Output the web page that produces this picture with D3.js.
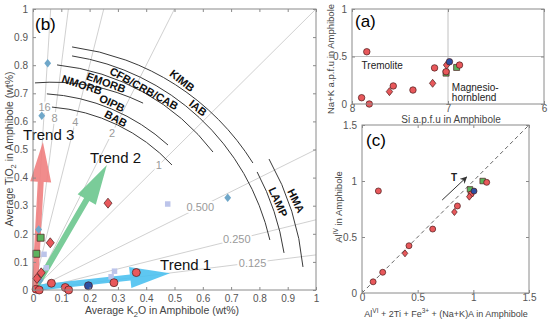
<!DOCTYPE html>
<html>
<head>
<meta charset="utf-8">
<script src="https://cdn.jsdelivr.net/npm/d3@7"></script>
<style>
  body { margin: 0; background: #fff; }
  svg { font-family: "Liberation Sans", Arial, sans-serif; }
</style>
</head>
<body>
<div id="chart"></div>
<script>
// ---------- panel (b): TiO2 vs K2O ----------
const ticksB = [0, 0.1, 0.2, 0.3, 0.4, 0.5, 0.6, 0.7, 0.8, 0.9, 1];
const ratios = [16, 8, 4, 2, 1, 0.5, 0.25, 0.125];
const ratioLabels = ["16", "8", "4", "2", "1", "0.500", "0.250", "0.125"];
const ratioLabelTi = [0.651, 0.612, 0.598, 0.559, 0.445, 0.2955, 0.180, 0.097];

// field boundaries: start / end in (K2O, TiO2), radius in wt%
const arcStart = [[0.138, 0.865], [0.138, 0.833], [0.085, 0.801], [0.007, 0.737], [0.049, 0.698], [0.067, 0.651], [0.792, 0.420], [0.834, 0.466]];
const arcEnd = [[0.777, 0.452], [0.837, 0.178], [0.636, 0.491], [0.389, 0.665], [0.477, 0.516], [0.491, 0.445], [0.887, 0.132], [0.954, 0.082]];
const arcRadius = [0.89, 0.85, 0.80, 0.74, 0.70, 0.655, 0.90, 0.96];

const fieldNames = ["KIMB", "IAB", "CFB/CRB/CAB", "EMORB", "NMORB", "OIPB", "BAB", "LAMP", "HMA"];
const fieldPos = [[0.527, 0.745], [0.583, 0.648], [0.392, 0.717], [0.258, 0.738], [0.173, 0.730], [0.279, 0.665], [0.293, 0.610], [0.866, 0.313], [0.929, 0.317]];
const fieldAngle = [38, 38, 29, 20, 18, 25, 28, 66, 64];

const trendNames = ["Trend 1", "Trend 2", "Trend 3"];
const trendStart = [[0.007, 0.007], [0.014, 0.018], [0.007, 0.010]];
const trendTip = [[0.484, 0.060], [0.261, 0.445], [0.035, 0.527]];
const trendColor = ["#4dc1f0", "#6cc68e", "#ef7f80"];
const trendLabelPos = [[0.449, 0.071], [0.201, 0.452], [-0.035, 0.534]];

const redCircleB = [[0.011, 0.003], [0.022, 0.0], [0.065, 0.024], [0.114, 0.009], [0.126, 0.0], [0.286, 0.026], [0.365, 0.062]];
const redDiamondB = [[0.014, 0.041], [0.029, 0.061], [0.061, 0.168], [0.265, 0.309]];
const greenSquareB = [[0.027, 0.186], [0.012, 0.129]];
const blueCircleB = [[0.196, 0.015]];
const lightSquareB = [[0.039, 0.127], [0.047, 0.079], [0.476, 0.306], [0.288, 0.067], [0.276, 0.047]];
const lightDiamondB = [[0.020, 0.215], [0.031, 0.620], [0.052, 0.807], [0.688, 0.328], [0.025, 0.035]];

// ---------- panel (a): Na+K vs Si ----------
const ticksAx = [8, 7, 6];
const ticksAy = [0, 0.5, 1];
const redCircleA = [[7.846, 0.55], [7.90, 0.066], [7.82, 0.0], [7.57, 0.19], [7.365, 0.147], [7.14, 0.38], [7.02, 0.34], [6.88, 0.41]];
const redDiamondA = [[7.61, 0.13], [7.16, 0.218], [7.015, 0.41]];
const greenSquareA = [[6.91, 0.385], [7.02, 0.325]];
const blueCircleA = [[6.985, 0.445]];

// ---------- panel (c): AlIV vs AlVI+2Ti+Fe3+ ----------
const ticksC = [0, 0.5, 1, 1.5];
const redCircleC = [[0.10, 0.10], [0.186, 0.185], [0.422, 0.422], [0.635, 0.571], [0.857, 0.777], [0.98, 0.884], [1.12, 0.988], [0.147, 0.911]];
const redDiamondC = [[0.386, 0.354], [0.83, 0.723], [0.964, 0.86]];
const greenSquareC = [[0.97, 0.925], [1.084, 1.0]];
const blueCircleC = [[1.006, 0.91]];
const tArrow = [[0.72, 0.83], [0.94, 1.035]];

const colors = { red: "#e8585b", green: "#5cb35e", blue: "#2d4fa2", lightSq: "#bcc4ea", lightDia: "#6fa7c9", edge: "#4a1b1b" };

const width = 550, height = 322;
const svg = d3.select("#chart").append("svg")
    .attr("width", width).attr("height", height)
    .attr("viewBox", [0, 0, width, height]);

const xb = d3.scaleLinear().domain([0, 1]).range([33, 316]);
const yb = d3.scaleLinear().domain([0, 1]).range([290, 9]);
const xa = d3.scaleLinear().domain([8, 6]).range([352, 544]);
const ya = d3.scaleLinear().domain([0, 1]).range([104, 9]);
const xc = d3.scaleLinear().domain([0, 1.5]).range([362, 529]);
const yc = d3.scaleLinear().domain([0, 1.5]).range([293, 125]);

const fmt = d3.format("~g");

drawFrame = (x, y, xt, yt, fs, padX) => {
    const g = svg.append("g");
    const [x0, x1] = x.range(), [y0, y1] = y.range();
    const style = a => a
        .call(s => s.select(".domain").remove())
        .call(s => s.selectAll("line").attr("stroke", "#8a8a8a"))
        .call(s => s.selectAll("text").attr("fill", "#555").attr("font-size", fs).attr("font-family", null));
    g.append("g").attr("transform", `translate(0,${y0})`)
        .call(d3.axisBottom(x).tickValues(xt).tickSize(-3).tickPadding(padX).tickFormat(fmt)).call(style);
    g.append("g").attr("transform", `translate(0,${y1})`)
        .call(d3.axisTop(x).tickValues(xt).tickSize(-3).tickFormat("")).call(style);
    g.append("g").attr("transform", `translate(${Math.min(x0, x1)},0)`)
        .call(d3.axisLeft(y).tickValues(yt).tickSize(-3).tickPadding(5).tickFormat(fmt)).call(style);
    g.append("g").attr("transform", `translate(${Math.max(x0, x1)},0)`)
        .call(d3.axisRight(y).tickValues(yt).tickSize(-3).tickFormat("")).call(style);
    g.append("rect")
        .attr("x", Math.min(x0, x1)).attr("y", y1)
        .attr("width", Math.abs(x1 - x0)).attr("height", y0 - y1)
        .attr("fill", "none").attr("stroke", "#8a8a8a").attr("stroke-width", 1);
    return g;
};

const symbolFor = {
    circle: s => d3.symbol(d3.symbolCircle, Math.PI * s * s / 4)(),
    square: s => `M${-s / 2},${-s / 2}h${s}v${s}h${-s}Z`,
    diamond: s => `M0,${-s / 2}L${s * 0.4},0L0,${s / 2}L${-s * 0.4},0Z`
};

drawMarkers = (data, x, y, shape, size, fill, stroke) => {
    svg.append("g").selectAll("path")
        .data(data)
        .join("path")
        .attr("transform", d => `translate(${x(d[0])},${y(d[1])})`)
        .attr("d", symbolFor[shape](size))
        .attr("fill", fill)
        .attr("stroke", stroke || "none")
        .attr("stroke-width", 0.7);
};

// ======== panel (b) ========
const plotB = svg.append("g");
plotB.selectAll("line.ratio")
    .data(ratios)
    .join("line")
    .attr("class", "ratio")
    .attr("x1", xb(0)).attr("y1", yb(0))
    .attr("x2", r => xb(r >= 1 ? 1 / r : 1))
    .attr("y2", r => yb(r >= 1 ? 1 : r))
    .attr("stroke", "#c4c4c4").attr("stroke-width", 0.8);

plotB.selectAll("text.ratio")
    .data(ratios)
    .join("text")
    .attr("class", "ratio")
    .attr("x", (r, i) => xb(ratioLabelTi[i] / r))
    .attr("y", (r, i) => yb(ratioLabelTi[i]))
    .attr("dy", "0.35em")
    .attr("text-anchor", "middle")
    .attr("font-size", 11)
    .attr("fill", "#9a9a9a")
    .attr("stroke", "#fff").attr("stroke-width", 4).attr("paint-order", "stroke")
    .text((r, i) => ratioLabels[i]);

const kx = xb(1) - xb(0);
plotB.selectAll("path.field")
    .data(arcStart)
    .join("path")
    .attr("class", "field")
    .attr("d", (d, i) => `M${xb(d[0])},${yb(d[1])} A${arcRadius[i] * kx},${arcRadius[i] * kx} 0 0 1 ${xb(arcEnd[i][0])},${yb(arcEnd[i][1])}`)
    .attr("fill", "none").attr("stroke", "#3a3a3a").attr("stroke-width", 1);

plotB.selectAll("text.field")
    .data(fieldNames)
    .join("text")
    .attr("class", "field")
    .attr("transform", (d, i) => `translate(${xb(fieldPos[i][0])},${yb(fieldPos[i][1])}) rotate(${fieldAngle[i]})`)
    .attr("text-anchor", "middle")
    .attr("dy", "0.35em")
    .attr("font-size", 11).attr("font-weight", "bold").attr("fill", "#111")
    .text(d => d);

arrowPath = (p0, p1, sw, hw, hl) => {
    const dx = p1[0] - p0[0], dy = p1[1] - p0[1], L = Math.hypot(dx, dy);
    const ux = dx / L, uy = dy / L, nx = -uy, ny = ux;
    const bx = p1[0] - ux * hl, by = p1[1] - uy * hl;
    const pts = [
        [p0[0] + nx * sw, p0[1] + ny * sw], [bx + nx * sw, by + ny * sw], [bx + nx * hw, by + ny * hw],
        p1, [bx - nx * hw, by - ny * hw], [bx - nx * sw, by - ny * sw], [p0[0] - nx * sw, p0[1] - ny * sw]
    ];
    return "M" + pts.map(p => p.join(",")).join("L") + "Z";
};

plotB.selectAll("path.trend")
    .data(trendNames)
    .join("path")
    .attr("class", "trend")
    .attr("d", (d, i) => arrowPath(
        [xb(trendStart[i][0]), yb(trendStart[i][1])],
        [xb(trendTip[i][0]), yb(trendTip[i][1])], 3, 10.5, 40))
    .attr("fill", (d, i) => trendColor[i])
    .attr("fill-opacity", 0.9);

plotB.selectAll("text.trend")
    .data(trendNames)
    .join("text")
    .attr("class", "trend")
    .attr("x", (d, i) => xb(trendLabelPos[i][0]))
    .attr("y", (d, i) => yb(trendLabelPos[i][1]))
    .attr("font-size", 15).attr("fill", "#111")
    .text(d => d);

drawMarkers(lightSquareB, xb, yb, "square", 5.5, colors.lightSq);
drawMarkers(lightDiamondB, xb, yb, "diamond", 8.5, colors.lightDia);
drawMarkers(greenSquareB, xb, yb, "square", 7, colors.green, colors.edge);
drawMarkers(redCircleB, xb, yb, "circle", 8, colors.red, colors.edge);
drawMarkers(redDiamondB, xb, yb, "diamond", 10, colors.red, colors.edge);
drawMarkers(blueCircleB, xb, yb, "circle", 8, colors.blue, colors.edge);

drawFrame(xb, yb, ticksB, ticksB, 10, 5);

svg.append("text").attr("x", 35).attr("y", 30).attr("font-size", 17).text("(b)");

const titleB = svg.append("text").attr("x", 162).attr("y", 314)
    .attr("text-anchor", "middle").attr("font-size", 10.5).attr("fill", "#444");
titleB.append("tspan").text("Average K");
titleB.append("tspan").attr("font-size", 7.5).attr("dy", 3).text("2");
titleB.append("tspan").attr("dy", -3).text("O in Amphibole (wt%)");

const titleBy = svg.append("text").attr("transform", "translate(13,149) rotate(-90)")
    .attr("text-anchor", "middle").attr("font-size", 10.5).attr("fill", "#444");
titleBy.append("tspan").text("Average TiO");
titleBy.append("tspan").attr("font-size", 7.5).attr("dy", 3).text("2");
titleBy.append("tspan").attr("dy", -3).text(" in Amphibole (wt%)");

// ======== panel (a) ========
svg.append("line").attr("x1", xa(8)).attr("x2", xa(6)).attr("y1", ya(0.5)).attr("y2", ya(0.5))
    .attr("stroke", "#b0b0b0").attr("stroke-width", 0.8);
svg.append("line").attr("x1", xa(7)).attr("x2", xa(7)).attr("y1", ya(0)).attr("y2", ya(1))
    .attr("stroke", "#b0b0b0").attr("stroke-width", 0.8);
svg.append("text").attr("x", xa(7.9)).attr("y", ya(0.37)).attr("font-size", 10).attr("fill", "#222").text("Tremolite");
const mh = svg.append("text").attr("x", xa(6.96)).attr("y", ya(0.14)).attr("font-size", 10).attr("fill", "#222");
mh.append("tspan").text("Magnesio-");
mh.append("tspan").attr("x", xa(6.96)).attr("dy", 10).text("hornblend");

drawMarkers(greenSquareA, xa, ya, "square", 6, colors.green, colors.edge);
drawMarkers(redCircleA, xa, ya, "circle", 6.5, colors.red, colors.edge);
drawMarkers(redDiamondA, xa, ya, "diamond", 8, colors.red, colors.edge);
drawMarkers(blueCircleA, xa, ya, "circle", 6.5, colors.blue, colors.edge);

drawFrame(xa, ya, ticksAx, ticksAy, 10, 1);
svg.append("text").attr("x", 355).attr("y", 27).attr("font-size", 17).text("(a)");
svg.append("text").attr("x", 451).attr("y", 123).attr("text-anchor", "middle")
    .attr("font-size", 10).attr("fill", "#444").text("Si a.p.f.u in Amphibole");
svg.append("text").attr("transform", "translate(334,59) rotate(-90)").attr("text-anchor", "middle")
    .attr("font-size", 9.5).attr("fill", "#444").text("Na+K a.p.f.u in Amphibole");

// ======== panel (c) ========
svg.append("line").attr("x1", xc(0)).attr("y1", yc(0)).attr("x2", xc(1.5)).attr("y2", yc(1.5))
    .attr("stroke", "#555").attr("stroke-width", 0.9).attr("stroke-dasharray", "4,3");

svg.append("defs").append("marker")
    .attr("id", "ah").attr("viewBox", "0 0 10 10").attr("refX", 9).attr("refY", 5)
    .attr("markerWidth", 7).attr("markerHeight", 7).attr("orient", "auto")
    .append("path").attr("d", "M0,0L10,5L0,10L3,5Z").attr("fill", "#333");
svg.append("line")
    .attr("x1", xc(tArrow[0][0])).attr("y1", yc(tArrow[0][1]))
    .attr("x2", xc(tArrow[1][0])).attr("y2", yc(tArrow[1][1]))
    .attr("stroke", "#333").attr("stroke-width", 1).attr("marker-end", "url(#ah)");
svg.append("text").attr("x", xc(0.80)).attr("y", yc(1.0)).attr("font-size", 10).attr("font-weight", "bold")
    .attr("fill", "#222").text("T");

drawMarkers(greenSquareC, xc, yc, "square", 5.5, colors.green, colors.edge);
drawMarkers(redCircleC, xc, yc, "circle", 6, colors.red, colors.edge);
drawMarkers(redDiamondC, xc, yc, "diamond", 7, colors.red, colors.edge);
drawMarkers(blueCircleC, xc, yc, "circle", 6, colors.blue, colors.edge);

drawFrame(xc, yc, ticksC, ticksC, 10, 1);
svg.append("text").attr("x", 366).attr("y", 146).attr("font-size", 17).text("(c)");

const titleC = svg.append("text").attr("x", 446).attr("y", 317).attr("text-anchor", "middle")
    .attr("font-size", 9).attr("fill", "#444");
titleC.append("tspan").text("Al");
titleC.append("tspan").attr("font-size", 6.5).attr("dy", -4).text("VI");
titleC.append("tspan").attr("dy", 4).text(" + 2Ti + Fe");
titleC.append("tspan").attr("font-size", 6.5).attr("dy", -4).text("3+");
titleC.append("tspan").attr("dy", 4).text(" + (Na+K)A in Amphibole");

const titleCy = svg.append("text").attr("transform", "translate(342,207) rotate(-90)").attr("text-anchor", "middle")
    .attr("font-size", 9.5).attr("fill", "#444");
titleCy.append("tspan").text("Al");
titleCy.append("tspan").attr("font-size", 6.5).attr("dy", -4).text("IV");
titleCy.append("tspan").attr("dy", 4).text(" in Amphibole");
</script>
</body>
</html>
